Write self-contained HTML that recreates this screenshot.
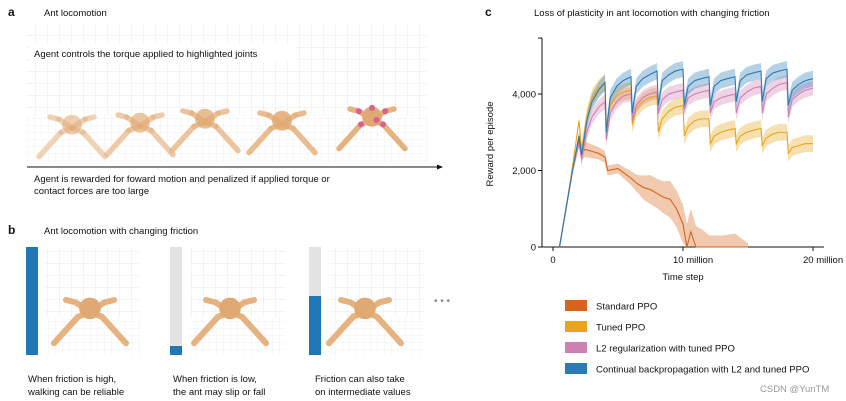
<!DOCTYPE html>
<html><head><meta charset="utf-8"><style>
body{margin:0;width:846px;height:401px;background:#fff;font-family:"Liberation Sans",sans-serif;overflow:hidden}
svg{display:block}
text{font-family:"Liberation Sans",sans-serif;fill:#111}
</style></head><body>
<svg id="fig" width="846" height="401">
<defs>
<pattern id="grid" width="12" height="12" patternUnits="userSpaceOnUse"><path d="M12 0V12H0" fill="none" stroke="#e2e2e2" stroke-width="0.8"/></pattern>
<pattern id="grid2" width="7" height="7" patternUnits="userSpaceOnUse"><path d="M7 0V7H0" fill="none" stroke="#e6e6e6" stroke-width="0.6"/></pattern>
</defs>
<g>
<text x="8" y="16" font-weight="bold" font-size="12">a</text>
<text x="44" y="16" font-size="9.5">Ant locomotion</text>
<rect x="27" y="25" width="400" height="90" fill="url(#grid)"/>
<rect x="27" y="115" width="400" height="48" fill="url(#grid2)"/>
<rect x="30" y="44" width="266" height="18" fill="#fff"/>
<text x="34" y="57" font-size="9.5">Agent controls the torque applied to highlighted joints</text>
<g id="ants-a"></g>
<line x1="27" y1="167" x2="438" y2="167" stroke="#111" stroke-width="1"/>
<path d="M437 164.5 L443 167 L437 169.5Z" fill="#111"/>
<text x="34" y="182" font-size="9.5">Agent is rewarded for foward motion and penalized if applied torque or</text>
<text x="34" y="194" font-size="9.5">contact forces are too large</text>
</g>
<g>
<text x="8" y="234" font-weight="bold" font-size="12">b</text>
<text x="44" y="234" font-size="9.5">Ant locomotion with changing friction</text>
<rect x="45" y="247" width="95" height="70" fill="url(#grid)"/><rect x="45" y="317" width="95" height="38" fill="url(#grid2)"/>
<rect x="190" y="247" width="95" height="70" fill="url(#grid)"/><rect x="190" y="317" width="95" height="38" fill="url(#grid2)"/>
<rect x="330" y="247" width="95" height="70" fill="url(#grid)"/><rect x="330" y="317" width="95" height="38" fill="url(#grid2)"/>
<rect x="26" y="247" width="12" height="108" fill="#1f77b4"/>
<rect x="170" y="247" width="12" height="108" fill="#e3e3e3"/>
<rect x="170" y="346" width="12" height="9" fill="#1f77b4"/>
<rect x="309" y="247" width="12" height="108" fill="#e3e3e3"/>
<rect x="309" y="296" width="12" height="59" fill="#1f77b4"/>
<g id="ants-b"></g>
<text x="434" y="304" font-size="10" style="fill:#888">• • •</text>
<text x="28" y="382" font-size="9.5">When friction is high,</text>
<text x="28" y="395" font-size="9.5">walking can be reliable</text>
<text x="173" y="382" font-size="9.5">When friction is low,</text>
<text x="173" y="395" font-size="9.5">the ant may slip or fall</text>
<text x="315" y="382" font-size="9.5">Friction can also take</text>
<text x="315" y="395" font-size="9.5">on intermediate values</text>
</g>
<g>
<text x="485" y="16" font-weight="bold" font-size="12">c</text>
<text x="534" y="16" font-size="9.5">Loss of plasticity in ant locomotion with changing friction</text>
<g id="plot"></g>
<text x="0" y="0" font-size="9.5" transform="translate(493,144) rotate(-90)" text-anchor="middle">Reward per episode</text>
<text x="683" y="280" font-size="9.5" text-anchor="middle">Time step</text>
<g id="legend"></g>
</g>
<text x="760" y="392" font-size="9.5" style="fill:#999">CSDN @YunTM</text>
</svg>
<script>
const times=[0.5,1,1.5,2,2.2,2.6,3,3.5,4.0, 4.1,4.4,4.9,5.4,6.0, 6.1,6.4,6.9,7.4,8.0, 8.1,8.4,8.9,9.4,10.0, 10.1,10.4,10.9,11.4,12.0, 12.1,12.4,12.9,13.4,14.0, 14.1,14.4,14.9,15.4,16.0, 16.1,16.4,16.9,17.4,18.0, 18.1,18.4,18.9,19.4,20.0];
const blueVals=[0,1000,2000,2900,2400,3300,3800,4100,4300, 3000,3900,4200,4350,4450, 3500,4200,4400,4500,4600, 3700,4350,4500,4600,4650, 3700,4200,4350,4400,4450, 3700,4200,4350,4400,4450, 3800,4350,4500,4550,4600, 3800,4400,4550,4600,4650, 3700,4100,4250,4350,4400];
const pinkVals=[0,1000,2000,2700,2300,3000,3400,3650,3800, 2800,3500,3800,3950,4000, 3300,3700,3900,4000,4050, 3500,3850,4000,4050,4100, 3600,3900,4000,4050,4100, 3500,3800,3900,3950,4000, 3500,3900,4050,4150,4200, 3500,4000,4150,4250,4300, 3400,3850,4000,4100,4150];
const tunedVals=[0,1000,2100,3300,2500,3400,3900,4150,4300, 3100,3700,3950,4050,4100, 3200,3600,3800,3900,3950, 3000,3350,3550,3650,3700, 2900,3150,3300,3350,3350, 2700,2900,3000,3050,3100, 2700,2900,3000,3050,3100, 2650,2850,2950,3000,3000, 2450,2600,2650,2700,2700];
const stdTimes=[0.5,1,1.5,2,2.2,2.5,3,3.5,4,4.2,5,6,6.5,7,7.5,8,8.5,9,9.5,10,10.3,10.6,11,11.5,12,13,14,15];
const stdVals=[0,1000,2000,2800,2500,2550,2500,2450,2350,2000,2050,1800,1650,1550,1500,1400,1300,1250,1000,600,0,400,0,0,0,0,0,0];
const stdSpread=[30,60,100,180,200,200,180,160,160,130,130,180,230,320,380,380,420,480,480,500,600,600,550,450,300,300,350,100];
const yTicks=[0,2000,4000];
const yTickLabels=["0","2,000","4,000"];
const xTicks=[0,10,20];
const xTickLabels=["0","10  million","20 million"];
const legendLabels=["Standard PPO","Tuned PPO","L2 regularization with tuned PPO","Continual backpropagation with L2 and tuned PPO"];
const legendColors=["#d6641a","#e8a51c","#cf80b3","#2a7ab6"];

const NS="http://www.w3.org/2000/svg";
function mk(tag,attrs,parent){const e=document.createElementNS(NS,tag);for(const k in attrs)e.setAttribute(k,attrs[k]);parent.appendChild(e);return e;}
const X=t=>553+t*13.0;
const Y=v=>247-v*0.03825;
const plot=document.getElementById('plot');
let ax=mk('line',{x1:542,y1:38,x2:542,y2:247,stroke:'#111','stroke-width':1},plot);


ax=mk('line',{x1:542,y1:247,x2:824,y2:247,stroke:'#111','stroke-width':1},plot);


mk('line',{x1:538,y1:38,x2:542,y2:38,stroke:'#111'},plot);
yTicks.forEach((v,i)=>{mk('line',{x1:538,y1:Y(v),x2:542,y2:Y(v),stroke:'#111'},plot);
 const t=mk('text',{x:536,y:Y(v)+3.5,'font-size':9.5,'text-anchor':'end'},plot);t.textContent=yTickLabels[i];
 
 });
xTicks.forEach((v,i)=>{mk('line',{x1:X(v),y1:247,x2:X(v),y2:251,stroke:'#111'},plot);
 const t=mk('text',{x:i==0?X(v):X(v)-10,y:263,'font-size':9.5,'text-anchor':i==0?'middle':'start'},plot);
 t.textContent=xTickLabels[i];
 
 });
function band(ts,vs,spread,color,name){
 let up=ts.map((t,i)=>[X(t),Y(Math.max(0,vs[i]+spread(i)))]);
 let dn=ts.map((t,i)=>[X(t),Y(Math.max(0,vs[i]-spread(i)))]).reverse();
 const p=mk('path',{d:'M'+up.concat(dn).map(p=>p.join(',')).join('L')+'Z',fill:color,opacity:0.35},plot);
 
 
}
function line(ts,vs,color,name){
 const p=mk('polyline',{points:ts.map((t,i)=>X(t)+','+Y(vs[i])).join(' '),fill:'none',stroke:color,'stroke-width':1.1},plot);
 
 
}
band(stdTimes,stdVals,i=>stdSpread[i],legendColors[0],'standard-ppo');
band(times,tunedVals,i=>i<4?100:220,legendColors[1],'tuned-ppo');
band(times,pinkVals,i=>i<4?100:190,legendColors[2],'l2-ppo');
band(times,blueVals,i=>i<4?100:210,legendColors[3],'continual-backprop');
line(stdTimes,stdVals,legendColors[0],'standard-ppo');
line(times,tunedVals,legendColors[1],'tuned-ppo');
line(times,pinkVals,legendColors[2],'l2-ppo');
line(times,blueVals,legendColors[3],'continual-backprop');
const lg=document.getElementById('legend');
legendLabels.forEach((l,i)=>{const y=306+i*21;
 const r=mk('rect',{x:565,y:y-6,width:22,height:11,fill:legendColors[i]},lg);
 
 
 const t=mk('text',{x:596,y:y+3.5,'font-size':9.5},lg);t.textContent=l;
 
 });
function ant(g,cx,cy,s,op,joints){
 const c='#e6b27f';
 const upper=[[-12,-8],[12,-8],[-10,4],[10,4]];
 const lower=[[-20,-10],[20,-10],[-30,26],[30,26]];
 upper.forEach((u,k)=>{
  mk('line',{x1:cx,y1:cy,x2:cx+u[0]*s,y2:cy+u[1]*s,stroke:c,'stroke-width':5*s,'stroke-linecap':'round',opacity:op},g);
  mk('line',{x1:cx+u[0]*s,y1:cy+u[1]*s,x2:cx+lower[k][0]*s,y2:cy+lower[k][1]*s,stroke:c,'stroke-width':5*s,'stroke-linecap':'round',opacity:op},g);
 });
 mk('circle',{cx:cx,cy:cy-3*s,r:9*s,fill:'#e0a872',opacity:op},g);
 if(joints)[[-12,-8],[12,-8],[-10,4],[10,4],[0,-11],[4,0]].forEach(j=>mk('circle',{cx:cx+j[0]*s,cy:cy+j[1]*s,r:3,fill:'#d9608f'},g));
}
const ga=document.getElementById('ants-a');
[[72,128,1.1,0.55],[140,126,1.1,0.65],[205,122,1.1,0.75],[282,124,1.1,0.85],[372,120,1.1,1]].forEach((a,i)=>ant(ga,a[0],a[1],a[2],a[3],i==4));
const gb=document.getElementById('ants-b');
ant(gb,90,312,1.2,1,false);ant(gb,230,312,1.2,1,false);ant(gb,365,312,1.2,1,false);
</script>
</body></html>
